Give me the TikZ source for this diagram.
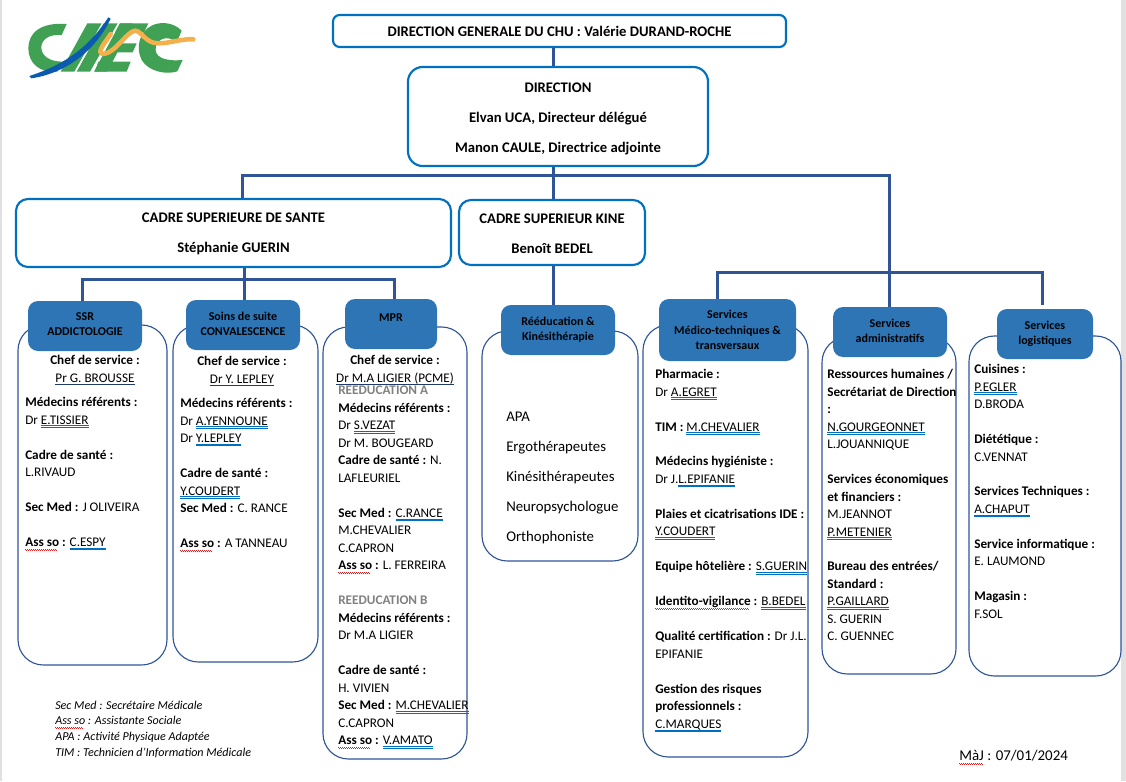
\documentclass[tikz,border=0pt]{standalone}
\usepackage{fontspec}
\setmainfont{Carlito}
\definecolor{chublue}{RGB}{0, 112, 192}
\definecolor{chunavy}{RGB}{47, 85, 151}
\definecolor{chufill}{RGB}{46, 117, 182}
\definecolor{chugreen}{RGB}{64, 160, 84}
\definecolor{chuorange}{RGB}{245, 176, 76}
\definecolor{chulogo}{RGB}{10, 90, 175}
\definecolor{chured}{RGB}{225, 30, 30}
\definecolor{chugray}{RGB}{128, 128, 128}
\definecolor{chustrip}{RGB}{225, 225, 225}
\newcommand\simple[1]{\leavevmode\setbox0\hbox{#1}\rlap{\textcolor{chunavy!70!black}{\rule[-1.8pt]{\wd0}{0.6pt}}}\box0\relax}
\newcommand\double[1]{\leavevmode\setbox0\hbox{#1}\rlap{\textcolor{chublue}{\rule[-1.4pt]{\wd0}{0.45pt}}}\rlap{\textcolor{chublue}{\rule[-2.5pt]{\wd0}{0.45pt}}}\box0\relax}
\newcommand\wavy[1]{\leavevmode\setbox0\hbox{#1}\rlap{\textcolor{chured}{\leaders\hbox{\rule[-2.2pt]{0.75pt}{0.5pt}\rule[-2.8pt]{0.75pt}{0.5pt}}\hskip\wd0}}\box0\relax}
\newcommand\vide{\\[13.1pt]}
\usetikzlibrary{positioning}

\begin{document}
\begin{tikzpicture}[
x = 0.75pt, y = -0.75pt,
  top/.style = {draw=chublue, line width=1.6pt, fill=white, align=center, inner sep=0pt,
                font=\fontsize{11}{13.4}\selectfont\bfseries},
  tete/.style = {fill=chufill, rounded corners=7.5pt, align=center, inner sep=0pt,
                font=\fontsize{9}{11.4}\selectfont\bfseries},
 corps/.style = {draw=chunavy, line width=0.85pt, rounded corners=19pt, inner sep=0pt},
 texte/.style = {anchor=north west, align=left, inner sep=0pt,
                font=\fontsize{9.9}{13.125}\selectfont},
  chef/.style = {anchor=north, align=center, inner sep=0pt,
                font=\fontsize{9.9}{13.5}\selectfont},
liaison/.style = {draw=chunavy, line width=2.25pt}
                 ]
\useasboundingbox (0,0) rectangle (1126,781);

% screenshot edges
\fill[chustrip] (0,0) rectangle (1.5,781);
\fill[chustrip] (1121,0) rectangle (1126,781);

% logo
\begin{scope}[shift={(15pt,-7.5pt)}, x=0.25pt, y=-0.25pt]
\fill[chugreen] (140,42) .. controls (60,36) and (25,70) .. (25,115)
   .. controls (25,160) and (60,190) .. (112,185) -- (128,155)
   .. controls (85,155) and (64,135) .. (64,112)
   .. controls (64,90) and (85,72) .. (125,75) -- cycle;
\fill[chugreen] (122,185) -- (163,185) -- (245,40) -- (202,40) -- cycle;
\fill[chugreen] (170,185) -- (210,185) -- (293,40) -- (251,40) -- cycle;
\fill[chugreen] (222,185) -- (262,185) -- (338,40) -- (300,40) -- cycle;
\fill[chugreen] (300,40) -- (385,40) -- (372,68) -- (285,68) -- cycle;
\fill[chugreen] (270,100) -- (350,100) -- (338,127) -- (255,127) -- cycle;
\fill[chugreen] (235,155) -- (332,155) -- (320,185) -- (225,185) -- cycle;
\fill[chugreen] (485,62) .. controls (460,36) and (420,34) .. (395,47)
   .. controls (360,65) and (345,110) .. (365,150)
   .. controls (385,185) and (440,195) .. (472,184) -- (488,150)
   .. controls (430,155) and (400,140) .. (408,108)
   .. controls (418,80) and (450,78) .. (470,98) -- cycle;
\draw[chuorange, line width=3.4pt, line cap=round, line join=round]
   (272,72) .. controls (258,95) and (225,130) .. (250,132)
   .. controls (285,130) and (320,65) .. (345,62)
   .. controls (365,62) and (375,100) .. (415,100)
   .. controls (450,100) and (490,85) .. (520,88);
\fill[chulogo] (28,198) .. controls (130,165) and (205,115) .. (265,22)
   -- (272,26) .. controls (225,125) and (135,190) .. (34,205) -- cycle;
\end{scope}

% white service boxes
\draw[corps] (18,325) rectangle (167,665);
\draw[corps] (173,325) rectangle (318,662);
\draw[corps] (323,327) rectangle (467,759);
\draw[corps] (482,331) rectangle (638,561);
\draw[corps] (643,325) rectangle (808,757);
\draw[corps] (822,337) rectangle (956,674);
\draw[corps] (969,336) rectangle (1121,676);

% direction boxes
\node[top, rounded corners=5pt, minimum width=339.75pt, minimum height=24pt] (dg) at (559.5,31)
   {\rule{0pt}{8.5pt}DIRECTION GENERALE DU CHU : Valérie DURAND-ROCHE};
\node[top, rounded corners=11pt, minimum width=225pt, minimum height=74.25pt, font=\fontsize{11}{22.5}\selectfont\bfseries] (direction) at (558,116.5)
   {\rule{0pt}{11.5pt}DIRECTION\\ Elvan UCA, Directeur délégué\\ Manon CAULE, Directrice adjointe};
\node[top, rounded corners=9pt, minimum width=326.25pt, minimum height=51pt, font=\fontsize{11}{22.5}\selectfont\bfseries] (cadresante) at (233.5,233)
   {\rule{0pt}{8.5pt}CADRE SUPERIEURE DE SANTE\\ Stéphanie GUERIN};
\node[top, rounded corners=9pt, minimum width=139.5pt, minimum height=48.75pt, font=\fontsize{11}{22.5}\selectfont\bfseries] (cadrekine) at (552,232.5)
   {\rule{0pt}{9pt}CADRE SUPERIEUR KINE\\ Benoît BEDEL};

% service headers
\node[tete, minimum width=85.5pt, minimum height=37.5pt] (ssr) at (85,326) {SSR\\ \rule[-3pt]{0pt}{0pt}ADDICTOLOGIE};
\node[tete, minimum width=85.5pt, minimum height=37.5pt] (soins) at (243,325) {Soins de suite\\ \rule[-1.5pt]{0pt}{0pt}CONVALESCENCE};
\node[tete, minimum width=69pt, minimum height=37.5pt] (mpr) at (391,324) {\raisebox{10pt}{MPR}};
\node[tete, minimum width=85.5pt, minimum height=37.5pt] (reeduc) at (558,330) {Rééducation \&\\ Kinésithérapie};
\node[tete, minimum width=102.75pt, minimum height=46.5pt] (medico) at (727.5,330) {Services\\ Médico-techniques \&\\ transversaux};
\node[tete, minimum width=85.5pt, minimum height=37.5pt] (admin) at (890,332) {Services\\ \rule[-1.5pt]{0pt}{0pt}administratifs};
\node[tete, minimum width=72pt, minimum height=37.5pt] (logis) at (1045,334) {Services\\ logistiques};

% connectors
\coordinate (tronc) at (553,175);
\coordinate (barreG) at (242,175);
\coordinate (barreD) at (889,175);
\coordinate (milieu) at (244,279);
\coordinate (ssrH) at (82,279);
\coordinate (mprH) at (394,279);
\coordinate (medH) at (717,272);
\coordinate (logH) at (1042,272);
\draw[liaison] (dg.south -| tronc) -- (direction.north -| tronc);
\draw[liaison] (direction.south -| tronc) -- (cadrekine.north -| tronc);
\draw[liaison] (cadrekine.south -| tronc) -- (reeduc.north -| tronc);
\draw[liaison] (cadresante.north -| barreG) -- (barreG) -- (barreD) -- (admin.north -| barreD);
\draw[liaison] (cadresante.south -| milieu) -- (soins.north -| milieu);
\draw[liaison] (ssr.north -| ssrH) -- (ssrH) -- (mprH) -- (mpr.north -| mprH);
\draw[liaison] (medico.north -| medH) -- (medH) -- (logH) -- ([yshift=3pt]logis.north -| logH);

% SSR
\node[chef] (ssrchef) at (95,355) {\textbf{Chef de service :}\\ \simple{Pr G. BROUSSE}};
\node[texte] (ssrtexte) at (25,397) {\textbf{Médecins référents :}\\
Dr \double{E.TISSIER}\vide
\textbf{Cadre de santé :}\\
L.RIVAUD\vide
\textbf{Sec Med :} J OLIVEIRA\vide
\textbf{\wavy{Ass so} :} \double{C.ESPY}};

% soins de suite
\node[chef] (soinschef) at (242,356) {\textbf{Chef de service :}\\ \simple{Dr Y. LEPLEY}};
\node[texte] (soinstexte) at (180,398) {\textbf{Médecins référents :}\\
Dr \double{A.YENNOUNE}\\
Dr \double{Y.LEPLEY}\vide
\textbf{Cadre de santé :}\\
\double{Y.COUDERT}\\
\textbf{Sec Med :} C. RANCE\vide
\textbf{\wavy{Ass so} :} A TANNEAU};

% MPR
\node[chef] (mprchef) at (395,355) {\textbf{Chef de service :}\\ \simple{Dr M.A LIGIER (PCME)}};
\node[texte] (mprtexte) at (338,386) {\textbf{\textcolor{chugray}{REEDUCATION A}}\\
\textbf{Médecins référents :}\\
Dr \double{S.VEZAT}\\
Dr M. BOUGEARD\\
\textbf{Cadre de santé :} N.\\
LAFLEURIEL\vide
\textbf{Sec Med :} \double{C.RANCE}\\
M.CHEVALIER\\
C.CAPRON\\
\textbf{\wavy{Ass so} :} L. FERREIRA\vide
\textbf{\textcolor{chugray}{REEDUCATION B}}\\
\textbf{Médecins référents :}\\
Dr M.A LIGIER\vide
\textbf{Cadre de santé :}\\
H. VIVIEN\\
\textbf{Sec Med :} \double{M.CHEVALIER}\\
C.CAPRON\\
\textbf{\wavy{Ass so} :} \double{V.AMATO}};

% reeducation
\node[texte, font=\fontsize{11.1}{22.5}\selectfont] (reeductexte) at (506,412) {APA\\
Ergothérapeutes\\
Kinésithérapeutes\\
Neuropsychologue\\
Orthophoniste};

% medico-techniques
\node[texte] (medicotexte) at (655,369) {\textbf{Pharmacie :}\\
Dr \double{A.EGRET}\vide
\textbf{TIM :} \double{M.CHEVALIER}\vide
\textbf{Médecins hygiéniste :}\\
Dr J.\double{L.EPIFANIE}\vide
\textbf{Plaies et cicatrisations IDE :}\\
\double{Y.COUDERT}\vide
\textbf{Equipe hôtelière :} \double{S.GUERIN}\vide
\textbf{\wavy{Identito-vigilance} :} \double{B.BEDEL}\vide
\textbf{Qualité certification :} Dr J.L.\\
EPIFANIE\vide
\textbf{Gestion des risques}\\
\textbf{professionnels :}\\
\double{C.MARQUES}};

% administratifs
\node[texte] (admintexte) at (827,369) {\textbf{Ressources humaines /}\\
\textbf{Secrétariat de Direction}\\
\textbf{:}\\
\double{N.GOURGEONNET}\\
L.JOUANNIQUE\vide
\textbf{Services économiques}\\
\textbf{et financiers :}\\
M.JEANNOT\\
\double{P.METENIER}\vide
\textbf{Bureau des entrées/}\\
\textbf{Standard :}\\
\double{P.GAILLARD}\\
S. GUERIN\\
C. GUENNEC};

% logistiques
\node[texte] (logistexte) at (974,364) {\textbf{Cuisines :}\\
\double{P.EGLER}\\
D.BRODA\vide
\textbf{Diététique :}\\
C.VENNAT\vide
\textbf{Services Techniques :}\\
\double{A.CHAPUT}\vide
\textbf{Service informatique :}\\
E. LAUMOND\vide
\textbf{Magasin :}\\
F.SOL};

% legend and date
\node[texte, font=\fontsize{9.05}{11.85}\selectfont\itshape] (legende) at (55,700.5) {Sec Med : Secrétaire Médicale\\
\wavy{Ass so} : Assistante Sociale\\
APA : Activité Physique Adaptée\\
TIM : Technicien d’Information Médicale};
\node[texte, font=\fontsize{11.2}{12}\selectfont] (maj) at (959,750) {\wavy{MàJ} : 07/01/2024};
\end{tikzpicture}
\end{document}
